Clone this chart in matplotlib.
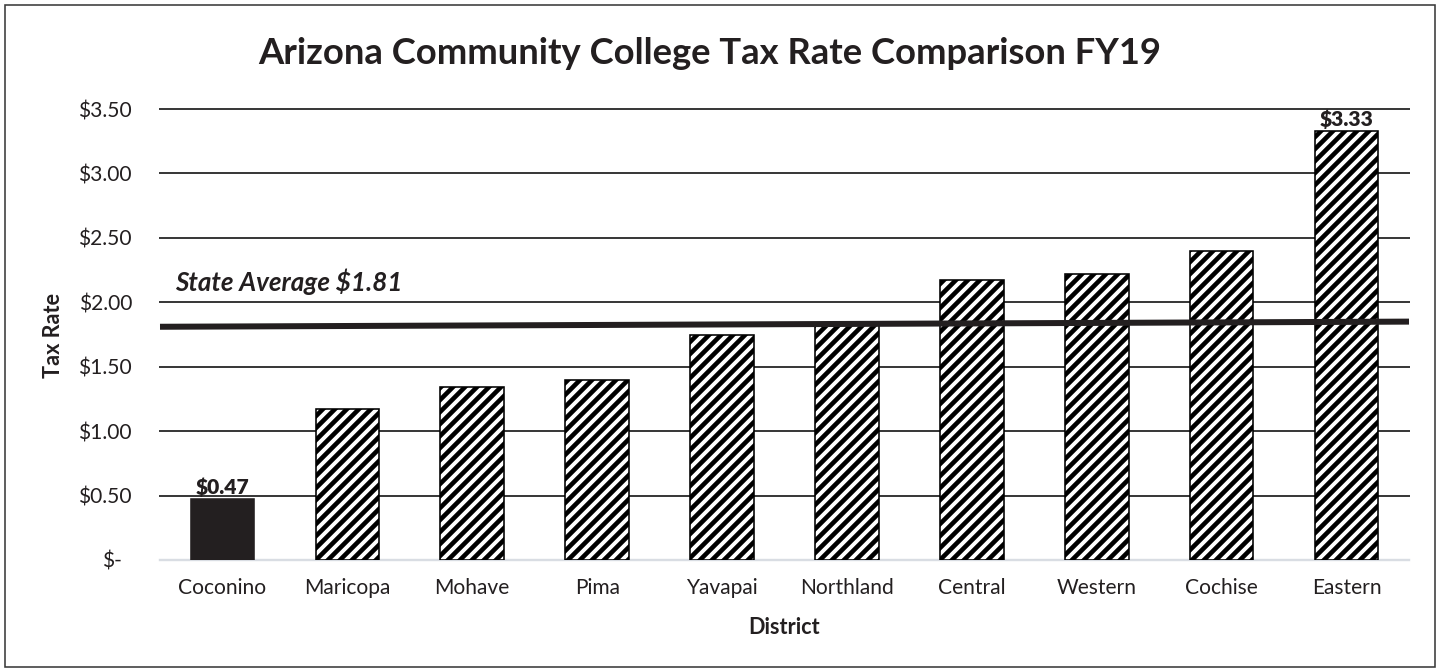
import numpy as np
import matplotlib
matplotlib.use("Agg")
import matplotlib.pyplot as plt
from matplotlib.patches import Rectangle
from matplotlib.transforms import ScaledTranslation

# data
districts = ["Coconino", "Maricopa", "Mohave", "Pima", "Yavapai",
             "Northland", "Central", "Western", "Cochise", "Eastern"]
tax_rate = [0.47, 1.17, 1.34, 1.40, 1.75, 1.82, 2.17, 2.22, 2.40, 3.33]
labelled = ["Coconino", "Eastern"]
state_avg = 1.81
state_avg_line = [1.81, 1.85]  # drawn line drifts slightly upward in the original
yticks = [0, 0.5, 1.0, 1.5, 2.0, 2.5, 3.0, 3.5]
ytick_labels = ["$-", "$0.50", "$1.00", "$1.50", "$2.00", "$2.50", "$3.00", "$3.50"]

plt.rcParams["font.family"] = ["Lato", "DejaVu Sans"]
plt.rcParams["hatch.linewidth"] = 2.3

ink = "#231f20"

fig = plt.figure(figsize=(10, 670 / 144), dpi=144)
ax = fig.add_axes([160 / 1440, 1 - 560 / 670, (1409 - 160) / 1440, (560 - 109) / 670])

x = np.arange(len(districts))
for i, (name, val) in enumerate(zip(districts, tax_rate)):
    if name == "Coconino":
        ax.bar(i, val, width=0.51, color=ink, edgecolor=ink, linewidth=0.8, zorder=3)
    else:
        ax.bar(i, val, width=0.51, color="white", edgecolor="black", hatch="////",
               linewidth=0.8, zorder=3)
    if name in labelled:
        ax.annotate("${:.2f}".format(val), (i, val), xytext=(0, 1.0),
                    textcoords="offset points", ha="center", va="bottom",
                    fontsize=10.5, fontweight="heavy", color=ink, zorder=5)

# state average line across the whole plot area
ax.plot([-0.5, len(districts) - 0.5], state_avg_line, color=ink, lw=3,
        solid_capstyle="butt", zorder=4, clip_on=False)
ax.text(-0.38, 2.16, "State Average ${:.2f}".format(state_avg), fontsize=13,
        fontweight="bold", fontstyle="italic", color=ink, va="center", ha="left")

ax.set_xlim(-0.5, len(districts) - 0.5)
ax.set_ylim(0, 3.5)
ax.set_yticks(yticks)
ax.set_yticklabels(ytick_labels)
ax.set_xticks(x)
ax.set_xticklabels(districts)
ax.tick_params(axis="both", length=0, labelsize=10.5, colors=ink)
ax.tick_params(axis="y", pad=14)
ax.tick_params(axis="x", pad=9)

# accounting-style zero sits a little left of the other labels
zero_lbl = ax.get_yticklabels()[0]
zero_lbl.set_transform(zero_lbl.get_transform() + ScaledTranslation(-5 / 72, 0, fig.dpi_scale_trans))

for yv in yticks[1:]:
    ax.axhline(yv, color="#3a3a3a", lw=1.0, zorder=1, clip_on=False)
for s in ["top", "right", "left"]:
    ax.spines[s].set_visible(False)
ax.spines["bottom"].set_color("#d9dde3")
ax.spines["bottom"].set_linewidth(1.2)
ax.spines["bottom"].set_zorder(2)

fig.text(710 / 1440, 1 - 64 / 670, "Arizona Community College Tax Rate Comparison FY19",
         ha="center", va="baseline", fontsize=18.2, fontweight="bold", color=ink)
fig.text(53 / 1440, 1 - 335 / 670, "Tax Rate", rotation=90, ha="center", va="center",
         fontsize=10.8, fontweight="bold", color=ink)
fig.text(784 / 1440, 1 - 627 / 670, "District", ha="center", va="center",
         fontsize=10.8, fontweight="bold", color=ink)

fig.patches.append(Rectangle((5 / 1440, 3 / 670), 1430 / 1440, 662 / 670,
                             transform=fig.transFigure, fill=False,
                             edgecolor="#3a3a3a", linewidth=0.8))

fig.savefig("out.png", dpi=144)
